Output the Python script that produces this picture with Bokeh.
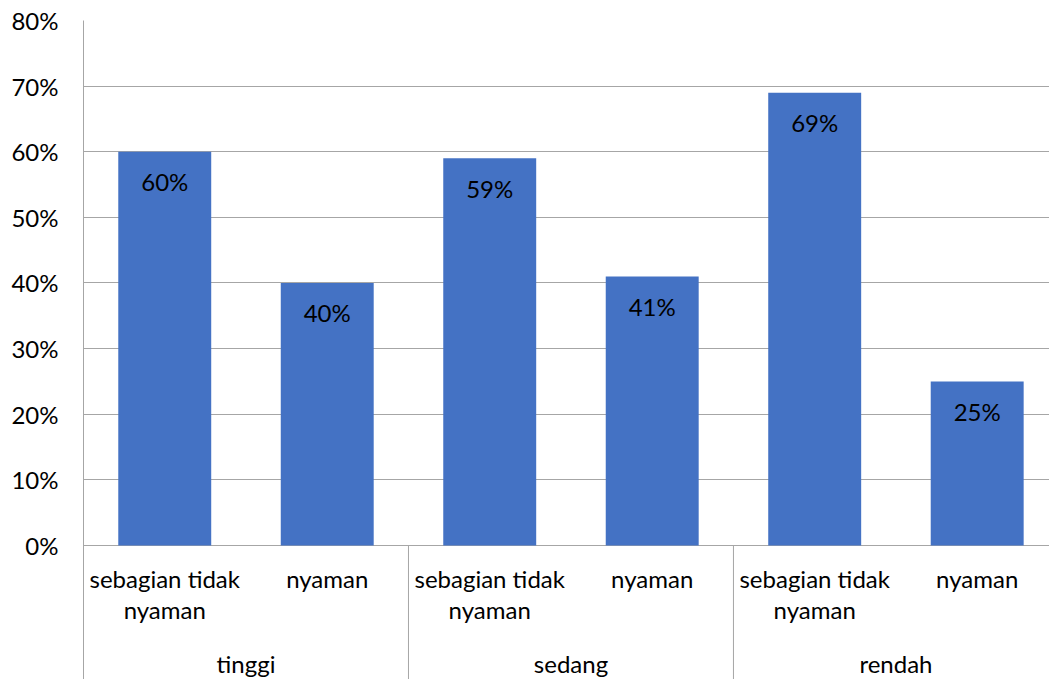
from bokeh.plotting import figure
from bokeh.models import Range1d, FixedTicker, NumeralTickFormatter, ColumnDataSource
from bokeh.core.properties import value
from bokeh.embed import file_html
from bokeh.resources import INLINE

# Survey results: share of respondents per comfort level within each group
groups = ["tinggi", "sedang", "rendah"]
subcats = ["sebagian tidak\nnyaman", "nyaman"]
values = [0.60, 0.40, 0.59, 0.41, 0.69, 0.25]
y_ticks = [0, 0.1, 0.2, 0.3, 0.4, 0.5, 0.6, 0.7, 0.8]

FONT = "Lato"
FSIZE = "24px"
GRID = "#A6A6A6"
BAR = "#4472C4"

n_sub = len(subcats)
xs = [i + 0.5 for i in range(len(values))]
labels = [f"{round(v * 100)}%" for v in values]
sub_labels = [subcats[i % n_sub] for i in range(len(values))]
group_x = [g * n_sub + n_sub / 2 for g in range(len(groups))]
sep_x = [g * n_sub for g in range(1, len(groups))]

y_bottom = -0.2042
p = figure(width=1049, height=679, output_backend="svg", toolbar_location=None,
           x_range=Range1d(0, 5.945), y_range=Range1d(y_bottom, 0.8),
           x_axis_location=None,
           min_border_left=83, min_border_right=0, min_border_top=20, min_border_bottom=0)
p.outline_line_color = None
p.background_fill_color = "white"
p.border_fill_color = "white"
p.xgrid.visible = False

p.ygrid.ticker = FixedTicker(ticks=y_ticks)
p.ygrid.grid_line_color = GRID
p.ygrid.grid_line_width = 1
p.yaxis.ticker = FixedTicker(ticks=y_ticks)
p.yaxis.formatter = NumeralTickFormatter(format="0%")
p.yaxis.axis_line_color = GRID
p.yaxis.major_tick_line_color = None
p.yaxis.minor_tick_line_color = None
p.yaxis.major_label_standoff = 19
p.yaxis.major_label_text_font = FONT
p.yaxis.major_label_text_font_size = FSIZE
p.yaxis.major_label_text_color = "black"

src = ColumnDataSource(dict(x=xs, top=values, label=labels, sub=sub_labels))
p.vbar(x="x", top="top", bottom=0, width=0.572, source=src,
       fill_color=BAR, line_color=None)

# value labels inside the bars
p.text(x="x", y="top", text="label", source=src, y_offset=30,
       text_align="center", text_baseline="middle",
       text_font=value(FONT), text_font_size=FSIZE, text_color="black")

# category labels under the bars
p.text(x="x", y=0, text="sub", source=src, y_offset=19,
       text_align="center", text_baseline="top", text_line_height=1.05,
       text_font=value(FONT), text_font_size=FSIZE, text_color="black")

# group labels
p.text(x=group_x, y=[0] * len(groups), text=groups, y_offset=118,
       text_align="center", text_baseline="middle",
       text_font=value(FONT), text_font_size=FSIZE, text_color="black")

# group separators
p.segment(x0=sep_x, y0=[0] * len(sep_x), x1=sep_x, y1=[y_bottom] * len(sep_x),
          line_color=GRID, line_width=1)

open("out.html", "w").write(file_html(p, INLINE))
